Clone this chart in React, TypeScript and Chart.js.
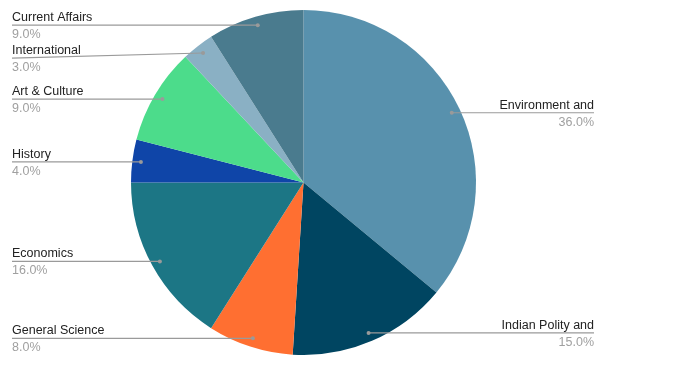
import React, { useEffect, useRef } from "react";
import { Chart, registerables } from "chart.js";

Chart.register(...registerables);

const categories = [
  "Environment and",
  "Indian Polity and",
  "General Science",
  "Economics",
  "History",
  "Art & Culture",
  "International",
  "Current Affairs",
];
const values = [36, 15, 8, 16, 4, 9, 3, 9];
const colors = [
  "#5891ad",
  "#004561",
  "#ff6f31",
  "#1c7685",
  "#0f45a8",
  "#4cdc8b",
  "#8ab0c4",
  "#4a7b8e",
];

const FONT = "'Liberation Sans', Arial, sans-serif";

const leaderPlugin = {
  id: "leaderLabels",
  afterDraw(chart: any) {
    const ctx = chart.ctx;
    const meta = chart.getDatasetMeta(0);
    const data = chart.data.datasets[0].data as number[];
    const total = data.reduce((a, b) => a + b, 0);
    const leftX = 12;
    const rightX = 594;
    const items: any[] = [];
    meta.data.forEach((arc: any, i: number) => {
      const p = arc.getProps(["x", "y", "startAngle", "endAngle", "outerRadius"], true);
      const mid = (p.startAngle + p.endAngle) / 2;
      const r = p.outerRadius * 0.95;
      const dx = p.x + Math.cos(mid) * r;
      const dy = p.y + Math.sin(mid) * r;
      items.push({
        i,
        dx,
        dy,
        ly: dy,
        left: Math.cos(mid) < 0,
        label: chart.data.labels[i],
        pct: ((data[i] / total) * 100).toFixed(1) + "%",
      });
    });
    const gap = 33;
    [true, false].forEach((side) => {
      const arr = items.filter((it) => it.left === side).sort((a, b) => a.dy - b.dy);
      for (let k = 1; k < arr.length; k++) {
        if (arr[k].ly < arr[k - 1].ly + gap) arr[k].ly = arr[k - 1].ly + gap;
      }
    });
    ctx.save();
    items.forEach((it) => {
      const ex = it.left ? leftX : rightX;
      ctx.strokeStyle = "#9a9a9a";
      ctx.lineWidth = 1.2;
      ctx.beginPath();
      ctx.moveTo(it.dx, it.dy);
      ctx.lineTo(ex, it.ly);
      ctx.stroke();
      ctx.fillStyle = "#9a9a9a";
      ctx.beginPath();
      ctx.arc(it.dx, it.dy, 2, 0, Math.PI * 2);
      ctx.fill();
      ctx.font = `12.5px ${FONT}`;
      ctx.textAlign = it.left ? "left" : "right";
      ctx.textBaseline = "alphabetic";
      ctx.fillStyle = "#222222";
      ctx.fillText(it.label, ex, it.ly - 4);
      ctx.fillStyle = "#a0a0a0";
      ctx.fillText(it.pct, ex, it.ly + 13);
    });
    ctx.restore();
  },
};

export default function App() {
  const ref = useRef<HTMLCanvasElement>(null);
  useEffect(() => {
    document.body.style.margin = "0";
    const chart = new Chart(ref.current!, {
      type: "pie",
      data: {
        labels: categories,
        datasets: [
          {
            data: values,
            backgroundColor: colors,
            borderWidth: 0,
          },
        ],
      },
      options: {
        animation: false,
        responsive: false,
        maintainAspectRatio: false,
        layout: { padding: { left: 131, right: 201, top: 10, bottom: 16 } },
        plugins: {
          legend: { display: false },
          tooltip: { enabled: false },
        },
      },
      plugins: [leaderPlugin],
    });
    return () => chart.destroy();
  }, []);
  return (
    <div style={{ width: 677, height: 371, background: "#fff" }}>
      <canvas ref={ref} width={677} height={371} />
    </div>
  );
}
